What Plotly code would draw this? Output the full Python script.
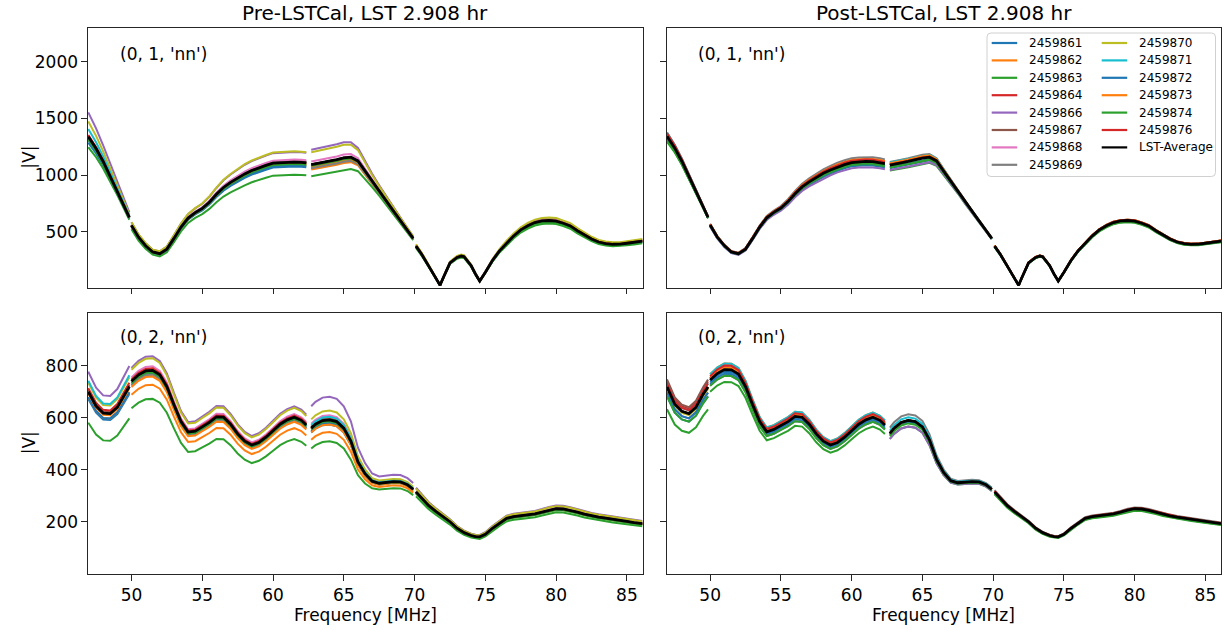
import plotly.graph_objects as go
from plotly.subplots import make_subplots

# ---------------- data ----------------
DAYS = ["2459861", "2459862", "2459863", "2459864", "2459866", "2459867", "2459868",
        "2459869", "2459870", "2459871", "2459872", "2459873", "2459874", "2459876"]
COLORS = ["#1f77b4", "#ff7f0e", "#2ca02c", "#d62728", "#9467bd", "#8c564b", "#e377c2",
          "#7f7f7f", "#bcbd22", "#17becf", "#1f77b4", "#ff7f0e", "#2ca02c", "#d62728"]

# frequency grid in MHz (None = flagged channels / gap)
FREQ = [46.95, 47.5, 48.0, 48.5, 49.0, 49.5, 49.85, None,
        50.0, 50.5, 51.0, 51.5, 52.0, 52.5, 53.0, 53.5, 54.0, 54.5, 55.0, 55.5, 56.0, 56.5,
        57.0, 57.5, 58.0, 58.5, 59.0, 59.5, 60.0, 60.5, 61.0, 61.5, 62.0, 62.35, None,
        62.7, 63.0, 63.5, 64.0, 64.5, 65.0, 65.5, 66.0, 66.5, 67.0, 67.5, 68.0, 68.5, 69.0,
        69.5, 69.9, None,
        70.1, 70.5, 71.0, 71.5, 71.8, 72.0, 72.5, 73.0, 73.3, 73.5, 74.0, 74.3, 74.6, 75.0,
        75.5, 76.0, 76.5, 77.0, 77.5, 78.0, 78.5, 79.0, 79.5, 80.0, 80.5, 81.0, 81.5, 82.0,
        82.5, 83.0, 83.5, 84.0, 84.5, 85.0, 85.5, 86.1]

# LST-average |V| for baseline (0, 1, 'nn')
AVG_PRE_01 = [1340, 1235, 1120, 990, 860, 720, 625, None,
              555, 450, 375, 320, 305, 345, 440, 540, 620, 668, 705, 760, 830, 890,
              935, 975, 1010, 1040, 1065, 1085, 1105, 1110, 1115, 1115, 1112, 1108, None,
              1093, 1100, 1110, 1122, 1136, 1152, 1158, 1125, 1035, 945, 858, 770, 683, 597,
              510, 440, None,
              372, 300, 195, 90, 25, 85, 224, 272, 284, 278, 198, 125, 63, 140,
              245, 330, 401, 462, 515, 552, 580, 594, 598, 593, 574, 550, 508, 470,
              435, 408, 394, 388, 389, 397, 405, 416]
AVG_POST_01 = [1343, 1238, 1122, 992, 862, 722, 627, None,
               558, 452, 376, 320, 305, 345, 440, 540, 622, 670, 708, 765, 835, 895,
               940, 978, 1015, 1045, 1072, 1092, 1110, 1116, 1120, 1118, 1110, 1100, None,
               1088, 1098, 1108, 1120, 1135, 1150, 1158, 1125, 1035, 945, 858, 765, 680, 595,
               510, 440, None,
               372, 300, 195, 90, 25, 85, 224, 272, 284, 278, 198, 125, 63, 140,
               245, 330, 401, 462, 515, 552, 580, 594, 598, 593, 574, 550, 508, 470,
               435, 408, 394, 388, 389, 397, 405, 416]
# LST-average |V| for baseline (0, 2, 'nn')
AVG_PRE_02 = [700, 645, 618, 616, 640, 688, 720, None,
              740, 765, 780, 782, 765, 720, 650, 585, 545, 548, 565, 582, 603, 602,
              575, 538, 510, 495, 505, 525, 550, 575, 592, 602, 590, 572, None,
              560, 575, 589, 592, 585, 560, 510, 430, 385, 356, 348, 352, 354, 353,
              342, 325, None,
              315, 290, 262, 240, 228, 218, 200, 175, 165, 158, 147, 143, 142, 152,
              175, 195, 213, 220, 223, 226, 230, 237, 245, 250, 249, 244, 237, 229,
              223, 218, 214, 209, 205, 201, 197, 193]
AVG_POST_02 = [719, 652, 625, 616, 640, 690, 718, None,
               745, 770, 785, 784, 768, 720, 650, 585, 546, 555, 570, 585, 605, 602,
               575, 538, 510, 495, 505, 525, 550, 575, 592, 602, 590, 572, None,
               540, 560, 582, 590, 585, 565, 515, 440, 390, 358, 350, 352, 354, 353,
               342, 325, None,
               315, 290, 262, 240, 228, 218, 200, 175, 165, 158, 147, 143, 142, 152,
               175, 195, 213, 220, 223, 226, 230, 237, 245, 250, 249, 244, 237, 229,
               223, 218, 214, 209, 205, 201, 197, 193]

# relative width of the day-to-day spread along frequency, 1 = widest
SPREAD_TOP = [1.0, 0.9, 0.8, 0.7, 0.6, 0.5, 0.45, None,
              0.6, 0.65, 0.7, 0.75, 0.8, 0.8, 0.75, 0.7, 0.7, 0.7, 0.72, 0.78, 0.84, 0.9,
              0.94, 0.97, 1, 1, 1, 1, 1, 1, 1, 1, 1, 1, None,
              1, 1, 1, 1, 1, 1, 0.95, 0.85, 0.7, 0.58, 0.5, 0.45, 0.4, 0.38,
              0.36, 0.35, None,
              1, 1, 1, 1, 1, 1, 1, 1, 1, 1, 1, 1, 1, 1,
              1, 1, 1, 1, 1, 1, 1, 1, 1, 1, 1, 1, 1, 1,
              1, 1, 1, 1, 1, 1, 1, 1]
SPREAD_BOT = [1, 1, 1, 1, 1, 1, 1, None,
              1, 1, 1, 1, 1, 1, 1, 1, 1, 1, 1, 1, 1, 1,
              1, 1, 1, 1, 1, 1, 1, 1, 1, 1, 1, 1, None,
              1, 1, 1, 1, 1, 1, 1, 0.85, 0.7, 0.55, 0.5, 0.5, 0.5, 0.5,
              0.5, 0.5, None,
              1, 1, 1, 1, 1, 1, 1, 1, 1, 1, 1, 1, 1, 1,
              1, 1, 1, 1, 1, 1, 1, 1, 1, 1, 1, 1, 1, 1,
              1, 1, 1, 1, 1, 1, 1, 1]

# per-day fractional deviation from the LST-average at the widest spread,
# one value per frequency segment: 47-50, 50-62.4, 62.7-70, 70-86 MHz
DEV_PRE_01 = [[-0.04, -0.035, -0.03, -0.01], [-0.01, -0.02, -0.04, -0.005], [-0.07, -0.10, -0.095, -0.045],
              [0.00, 0.00, 0.00, 0.00], [0.16, 0.08, 0.12, 0.03], [0.00, 0.01, 0.00, 0.00],
              [0.01, 0.02, 0.025, 0.01], [-0.01, 0.00, -0.03, 0.00], [0.10, 0.085, 0.10, 0.045],
              [0.05, 0.00, 0.00, 0.00], [-0.02, -0.025, -0.015, -0.015], [0.00, -0.01, -0.015, 0.00],
              [-0.02, -0.015, -0.01, -0.025], [0.01, 0.00, 0.00, 0.005]]
DEV_POST_01 = [[-0.025, -0.03, -0.025, -0.012], [0.015, 0.015, 0.015, 0.005], [-0.035, -0.02, -0.045, -0.025],
               [0.025, 0.02, 0.005, 0.012], [-0.015, -0.045, -0.04, -0.012], [0.00, 0.00, 0.00, 0.00],
               [0.00, 0.005, 0.005, 0.00], [0.01, 0.035, 0.025, 0.008], [0.00, 0.005, 0.00, 0.012],
               [0.025, -0.005, 0.02, 0.00], [-0.015, -0.015, -0.015, -0.008], [0.00, 0.02, 0.015, 0.005],
               [-0.03, -0.015, -0.02, -0.018], [0.02, 0.015, 0.005, 0.012]]
DEV_PRE_02 = [[-0.04, -0.02, -0.03, -0.01], [-0.03, -0.07, -0.08, -0.015], [-0.17, -0.14, -0.14, -0.055],
              [0.00, 0.00, 0.00, 0.00], [0.11, 0.07, 0.15, 0.05], [0.01, 0.00, 0.01, 0.00],
              [0.00, 0.02, 0.03, 0.01], [0.00, -0.02, -0.01, 0.00], [0.05, 0.06, 0.06, 0.04],
              [0.06, 0.00, 0.02, 0.00], [-0.03, -0.01, -0.02, -0.01], [-0.01, -0.03, -0.03, -0.01],
              [0.00, -0.01, -0.01, -0.02], [0.02, 0.01, 0.00, 0.00]]
DEV_POST_02 = [[-0.05, -0.02, -0.01, -0.01], [0.00, 0.03, 0.00, 0.00], [-0.12, -0.06, -0.04, -0.03],
               [0.03, 0.01, 0.00, 0.00], [-0.03, -0.03, -0.04, 0.00], [0.04, 0.00, 0.00, 0.00],
               [0.00, 0.00, 0.00, 0.00], [0.00, 0.01, 0.04, 0.02], [-0.01, 0.00, 0.00, 0.00],
               [0.02, 0.03, 0.02, 0.00], [-0.03, -0.01, -0.01, -0.01], [0.00, 0.01, 0.00, 0.00],
               [-0.05, -0.03, -0.02, -0.02], [0.02, 0.02, 0.00, 0.01]]

TITLES = ["Pre-LSTCal, LST 2.908 hr", "Post-LSTCal, LST 2.908 hr"]
BL_LABELS = ["(0, 1, 'nn')", "(0, 2, 'nn')"]
X_TICKS = [50, 55, 60, 65, 70, 75, 80, 85]
Y_TICKS_01 = [500, 1000, 1500, 2000]
Y_TICKS_02 = [200, 400, 600, 800]

# ---------------- figure ----------------
W, H = 1225, 630
ML, MR, MT, MB = 88, 4, 28, 56
PW, PH = W - ML - MR, H - MT - MB


def px2x(px):
    return (px - ML) / PW


def py2y(py):
    return (H - MB - py) / PH


FONT = "DejaVu Sans"
AX = "#262626"

fig = make_subplots(rows=2, cols=2, shared_xaxes=True, shared_yaxes=True,
                    horizontal_spacing=0.02, vertical_spacing=0.04)

# segment index of each grid point
seg_idx = []
s = 0
for f in FREQ:
    if f is None:
        s += 1
        seg_idx.append(None)
    else:
        seg_idx.append(s)


def day_curve(avg, dev, spread):
    out = []
    for i, a in enumerate(avg):
        if a is None:
            out.append(None)
        else:
            out.append(a * (1 + dev[seg_idx[i]] * spread[i]))
    return out


panels = [(1, 1, AVG_PRE_01, DEV_PRE_01, SPREAD_TOP), (1, 2, AVG_POST_01, DEV_POST_01, SPREAD_TOP),
          (2, 1, AVG_PRE_02, DEV_PRE_02, SPREAD_BOT), (2, 2, AVG_POST_02, DEV_POST_02, SPREAD_BOT)]
for r, c, avg, devs, spread in panels:
    for d, day in enumerate(DAYS):
        fig.add_trace(go.Scatter(x=FREQ, y=day_curve(avg, devs[d], spread), mode="lines", name=day,
                                 line=dict(color=COLORS[d], width=2.0),
                                 showlegend=False, connectgaps=False, hoverinfo="skip"),
                      row=r, col=c)
    fig.add_trace(go.Scatter(x=FREQ, y=avg, mode="lines", name="LST-Average",
                             line=dict(color="black", width=2.8),
                             showlegend=False, connectgaps=False, hoverinfo="skip"),
                  row=r, col=c)

xd_left = [0, px2x(642.5)]
xd_right = [px2x(666.7), 1]
yd_top = [py2y(287.7), 1]
yd_bot = [0, py2y(312.7)]

axis_common = dict(showline=True, linecolor=AX, linewidth=1.1, mirror=True,
                   ticks="outside", ticklen=5.5, tickwidth=1.1, tickcolor=AX,
                   showgrid=False, zeroline=False,
                   tickfont=dict(family=FONT, size=17, color="black"))

for name, dom in [("xaxis", xd_left), ("xaxis2", xd_right), ("xaxis3", xd_left), ("xaxis4", xd_right)]:
    fig.layout[name].update(domain=dom, range=[46.93, 86.1], tickmode="array",
                            tickvals=X_TICKS, **axis_common)
for name, dom in [("yaxis", yd_top), ("yaxis2", yd_top)]:
    fig.layout[name].update(domain=dom, range=[4, 2300], tickmode="array",
                            tickvals=Y_TICKS_01, **axis_common)
for name, dom in [("yaxis3", yd_bot), ("yaxis4", yd_bot)]:
    fig.layout[name].update(domain=dom, range=[-1, 1004], tickmode="array",
                            tickvals=Y_TICKS_02, **axis_common)
fig.layout.xaxis.showticklabels = False
fig.layout.xaxis2.showticklabels = False
fig.layout.yaxis2.showticklabels = False
fig.layout.yaxis4.showticklabels = False

ann = []
# panel titles
for txt, cx in zip(TITLES, [(88 + 642.5) / 2, (666.7 + 1221) / 2]):
    ann.append(dict(text=txt, x=px2x(cx), y=py2y(13), xref="paper", yref="paper",
                    xanchor="center", yanchor="middle", showarrow=False,
                    font=dict(family=FONT, size=20, color="black")))
# baseline labels
for row, txt in enumerate(BL_LABELS):
    py = 54 if row == 0 else 337
    for lx in [118, 696]:
        ann.append(dict(text=txt, x=px2x(lx), y=py2y(py), xref="paper", yref="paper",
                        xanchor="left", yanchor="middle", showarrow=False,
                        font=dict(family=FONT, size=17, color="black")))
# axis labels
for cy in [157.7, 443.3]:
    ann.append(dict(text="|V|", x=px2x(29), y=py2y(cy), xref="paper", yref="paper",
                    xanchor="center", yanchor="middle", textangle=-90, showarrow=False,
                    font=dict(family=FONT, size=17, color="black")))
for cx in [(88 + 642.5) / 2, (666.7 + 1221) / 2]:
    ann.append(dict(text="Frequency [MHz]", x=px2x(cx), y=py2y(615), xref="paper", yref="paper",
                    xanchor="center", yanchor="middle", showarrow=False,
                    font=dict(family=FONT, size=17, color="black")))

# legend (drawn manually to mimic the two-column layout)
shapes = []
x0, x1, y0, y1, rr = 987, 1215.5, 33, 176.5, 4
path = (f"M {px2x(x0 + rr)},{py2y(y0)} L {px2x(x1 - rr)},{py2y(y0)} "
        f"Q {px2x(x1)},{py2y(y0)} {px2x(x1)},{py2y(y0 + rr)} "
        f"L {px2x(x1)},{py2y(y1 - rr)} Q {px2x(x1)},{py2y(y1)} {px2x(x1 - rr)},{py2y(y1)} "
        f"L {px2x(x0 + rr)},{py2y(y1)} Q {px2x(x0)},{py2y(y1)} {px2x(x0)},{py2y(y1 - rr)} "
        f"L {px2x(x0)},{py2y(y0 + rr)} Q {px2x(x0)},{py2y(y0)} {px2x(x0 + rr)},{py2y(y0)} Z")
shapes.append(dict(type="path", path=path, xref="paper", yref="paper",
                   fillcolor="rgba(255,255,255,0.8)", line=dict(color="#d0d0d0", width=1),
                   layer="above"))
leg_names = DAYS + ["LST-Average"]
leg_colors = COLORS + ["black"]
for i, (nm, col) in enumerate(zip(leg_names, leg_colors)):
    ccol = 0 if i < 8 else 1
    rrow = i if i < 8 else i - 8
    ly = 43 + rrow * 17.4
    lx0 = 991.7 if ccol == 0 else 1101.7
    shapes.append(dict(type="line", xref="paper", yref="paper",
                       x0=px2x(lx0), x1=px2x(lx0 + 25.5), y0=py2y(ly), y1=py2y(ly),
                       line=dict(color=col, width=2.2), layer="above"))
    ann.append(dict(text=nm, x=px2x(lx0 + 35), y=py2y(ly), xref="paper", yref="paper",
                    xanchor="left", yanchor="middle", showarrow=False,
                    font=dict(family=FONT, size=12, color="black")))

fig.update_layout(width=W, height=H, margin=dict(l=ML, r=MR, t=MT, b=MB),
                  paper_bgcolor="white", plot_bgcolor="white", showlegend=False,
                  annotations=ann, shapes=shapes,
                  font=dict(family=FONT, size=17, color="black"))

fig.write_html("out.html", config={"displayModeBar": False},
               post_script="document.body.style.margin='0px';document.body.style.overflow='hidden';")
